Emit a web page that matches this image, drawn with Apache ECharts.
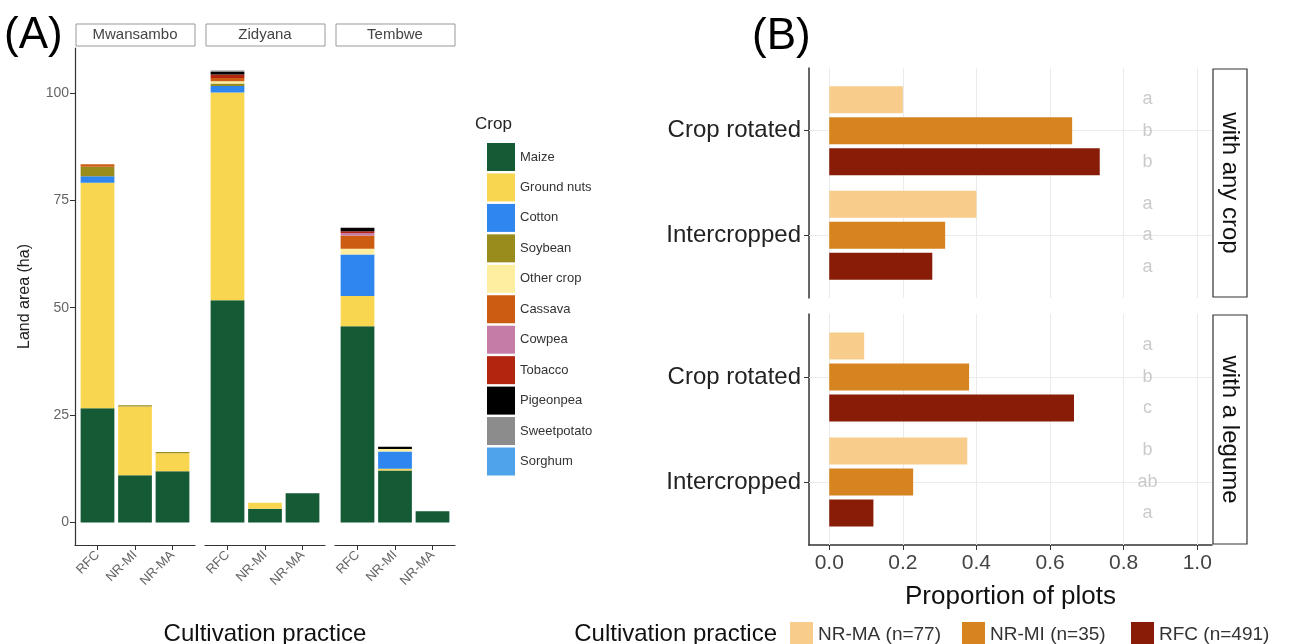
<!DOCTYPE html>
<html>
<head>
<meta charset="utf-8">
<script src="https://cdn.jsdelivr.net/npm/echarts@6/dist/echarts.min.js"></script>
<style>
  html, body { margin: 0; padding: 0; background: #fff; }
  #chart { width: 1290px; height: 644px; }
</style>
</head>
<body>
<div id="chart"></div>
<script>
// (A) land area per crop, one row per crop, columns follow `practices`
const sites = ['Mwansambo', 'Zidyana', 'Tembwe'];
const practices = ['RFC', 'NR-MI', 'NR-MA'];
const crops = ['Maize', 'Ground nuts', 'Cotton', 'Soybean', 'Other crop', 'Cassava',
  'Cowpea', 'Tobacco', 'Pigeonpea', 'Sweetpotato', 'Sorghum'];
const cropColors = ['#135a35', '#f9d64f', '#2e86ee', '#9a8c1c', '#fdeea0', '#cc5c12',
  '#c57ca6', '#b3250f', '#000000', '#8c8c8c', '#4fa3ea'];

const areaMwansambo = [
  [26.6, 11.0, 11.9],
  [52.5, 16.0, 4.2],
  [1.5, 0, 0],
  [2.2, 0.3, 0.3],
  [0, 0, 0],
  [0.6, 0, 0],
  [0, 0, 0],
  [0, 0, 0],
  [0, 0, 0],
  [0, 0, 0],
  [0, 0, 0]
];
const areaZidyana = [
  [51.7, 3.2, 6.8],
  [48.4, 1.4, 0],
  [1.5, 0, 0],
  [0.6, 0, 0],
  [0.5, 0, 0],
  [0.8, 0, 0],
  [0, 0, 0],
  [0.8, 0, 0],
  [0.6, 0, 0],
  [0.3, 0, 0],
  [0, 0, 0]
];
const areaTembwe = [
  [45.7, 12.1, 2.6],
  [7.0, 0.4, 0],
  [9.7, 4.0, 0],
  [0, 0, 0],
  [1.3, 0.6, 0],
  [3.1, 0, 0],
  [0.6, 0, 0],
  [0.4, 0, 0],
  [0.8, 0.5, 0],
  [0, 0, 0],
  [0, 0, 0]
];
const areaTicks = [0, 25, 50, 75, 100];

// (B) proportion of plots, values follow `methods`
const methods = ['Crop rotated', 'Intercropped'];
const groups = ['NR-MA (n=77)', 'NR-MI (n=35)', 'RFC (n=491)'];
const groupColors = ['#f8cd8b', '#d5841f', '#891c07'];
const anyCropNRMA = [0.20, 0.40];
const anyCropNRMI = [0.66, 0.315];
const anyCropRFC = [0.735, 0.28];
const legumeNRMA = [0.095, 0.375];
const legumeNRMI = [0.38, 0.228];
const legumeRFC = [0.665, 0.12];
const anyCropLetters = [['a', 'a'], ['b', 'a'], ['b', 'a']];
const legumeLetters = [['a', 'b'], ['b', 'ab'], ['c', 'a']];
const facetsB = ['with any crop', 'with a legume'];
const propTicks = [0, 0.2, 0.4, 0.6, 0.8, 1.0];

const FONT = 'Liberation Sans, Arial, sans-serif';
const chart = echarts.init(document.getElementById('chart'));

const grid = [], xAxis = [], yAxis = [], series = [], graphic = [];

// ---- panel A ----
const areas = [areaMwansambo, areaZidyana, areaTembwe];
const totals = areas.map(a => practices.map((p, k) => a.reduce((s, row) => s + row[k], 0)));
const maxTotal = Math.max(...totals.flat());
const yMinA = -0.05 * maxTotal, yMaxA = 1.05 * maxTotal;
const aLefts = [75, 205, 335];
const aTop = 48, aHeight = 497, aWidth = 120;
const aUnit = aWidth / 3.2; // discrete axis expanded by 0.6 each side

sites.forEach((site, g) => {
  const gf = grid.length;
  grid.push({ left: aLefts[g], top: aTop, width: aWidth, height: aHeight });
  grid.push({ left: aLefts[g] + 0.1 * aUnit, top: aTop, width: 3 * aUnit, height: aHeight });
  xAxis.push({
    type: 'value', gridIndex: gf, min: 0.4, max: 3.6,
    splitLine: { show: false },
    axisLine: { show: true, onZero: false, lineStyle: { color: '#333', width: 1.2 } },
    axisTick: { show: true, customValues: [1, 2, 3], length: 5, lineStyle: { color: '#333' } },
    axisLabel: {
      customValues: [1, 2, 3], formatter: v => practices[Math.round(v) - 1],
      rotate: 45, color: '#666', fontSize: 13, fontFamily: FONT, margin: 8
    }
  });
  xAxis.push({ type: 'category', gridIndex: gf + 1, data: practices, show: false });
  yAxis.push({
    type: 'value', gridIndex: gf, min: yMinA, max: yMaxA,
    show: g === 0,
    splitLine: { show: false },
    axisLine: { show: true, onZero: false, lineStyle: { color: '#333', width: 1.2 } },
    axisTick: { show: true, customValues: areaTicks, length: 5, lineStyle: { color: '#333' } },
    axisLabel: { customValues: areaTicks, color: '#666', fontSize: 14, fontFamily: FONT, margin: 6 },
    name: g === 0 ? 'Land area (ha)' : '', nameLocation: 'middle', nameGap: 42,
    nameTextStyle: { color: '#222', fontSize: 16, fontFamily: FONT }
  });
  yAxis.push({ type: 'value', gridIndex: gf + 1, min: yMinA, max: yMaxA, show: false, splitLine: { show: false } });
  crops.forEach((crop, c) => {
    series.push({
      type: 'bar', name: crop, stack: 'site' + g,
      xAxisIndex: gf + 1, yAxisIndex: gf + 1, barWidth: 0.9 * aUnit,
      itemStyle: { color: cropColors[c] },
      data: areas[g][c]
    });
  });
  graphic.push({
    type: 'rect', shape: { x: aLefts[g] + 1, y: 24, width: aWidth - 1, height: 22 },
    style: { fill: '#fff', stroke: '#999', lineWidth: 1 }
  });
  graphic.push({
    type: 'text', x: aLefts[g] + aWidth / 2, y: 35,
    style: { text: site, fill: '#444', fontSize: 15, fontFamily: FONT, align: 'center', verticalAlign: 'middle' }
  });
});

// ---- panel B ----
const bLeft = 809, bWidth = 403;
const bTops = [68, 314], bHeights = [230, 231];
const bValues = [[anyCropNRMA, anyCropNRMI, anyCropRFC], [legumeNRMA, legumeNRMI, legumeRFC]];
const bLetters = [anyCropLetters, legumeLetters];
const dodge = [-0.3, 0, 0.3];

facetsB.forEach((facet, f) => {
  const gv = grid.length;          // frame grid: axes, grid lines, letters
  const unit = bHeights[f] / 2.2;  // discrete axis expanded by 0.6 each side
  grid.push({ left: bLeft, top: bTops[f], width: bWidth, height: bHeights[f] });
  grid.push({ left: bLeft, top: bTops[f] + 0.1 * unit, width: bWidth, height: 2 * unit });
  const isBottom = f === facetsB.length - 1;
  xAxis.push({
    type: 'value', gridIndex: gv, min: -0.055, max: 1.04,
    splitLine: { show: false },
    axisLine: { show: isBottom, onZero: false, lineStyle: { color: '#333', width: 1.5 } },
    axisTick: { show: isBottom, customValues: propTicks, length: 5, lineStyle: { color: '#333' } },
    axisLabel: {
      show: isBottom, customValues: propTicks, formatter: v => v.toFixed(1),
      color: '#444', fontSize: 21, fontFamily: FONT, margin: 8
    },
    name: isBottom ? 'Proportion of plots' : '', nameLocation: 'middle', nameGap: 39,
    nameTextStyle: { color: '#111', fontSize: 26, fontFamily: FONT }
  });
  xAxis.push({ type: 'value', gridIndex: gv + 1, min: -0.055, max: 1.04, show: false, splitLine: { show: false } });
  yAxis.push({
    type: 'value', gridIndex: gv, min: 0.4, max: 2.6, inverse: true,
    splitLine: { show: false },
    axisLine: { show: true, onZero: false, lineStyle: { color: '#333', width: 1.5 } },
    axisTick: { show: true, customValues: [1, 2], length: 5, lineStyle: { color: '#333' } },
    axisLabel: {
      customValues: [1, 2], formatter: v => methods[Math.round(v) - 1],
      color: '#222', fontSize: 24, fontFamily: FONT, margin: 8
    }
  });
  yAxis.push({ type: 'category', gridIndex: gv + 1, data: methods, inverse: true, show: false });

  // light grid lines, kept under the bars
  series.push({
    type: 'scatter', xAxisIndex: gv, yAxisIndex: gv, data: [], z: 0, silent: true,
    markLine: {
      silent: true, symbol: 'none', z: 1, label: { show: false },
      lineStyle: { color: '#ebebeb', width: 1, type: 'solid' },
      data: propTicks.map(v => ({ xAxis: v })).concat(methods.map((m, i) => ({ yAxis: i + 1 })))
    }
  });
  groups.forEach((grp, j) => {
    series.push({
      type: 'bar', name: grp, xAxisIndex: gv + 1, yAxisIndex: gv + 1,
      barWidth: 27, barGap: '15%', z: 2,
      itemStyle: { color: groupColors[j] },
      data: bValues[f][j]
    });
  });
  series.push({
    type: 'scatter', xAxisIndex: gv, yAxisIndex: gv, z: 3, silent: true,
    symbolSize: 1, itemStyle: { color: 'rgba(0,0,0,0)' },
    label: {
      show: true, position: 'inside', formatter: p => p.data[2],
      color: '#bdbdbd', fontSize: 18, fontFamily: FONT
    },
    data: groups.flatMap((grp, j) => methods.map((m, i) => [0.865, i + 1 + dodge[j], bLetters[f][j][i]]))
  });
  graphic.push({
    type: 'rect', shape: { x: bLeft + bWidth + 1, y: bTops[f] + 1, width: 34, height: bHeights[f] - 2 },
    style: { fill: '#fff', stroke: '#333', lineWidth: 1.2 }
  });
  graphic.push({
    type: 'text', x: bLeft + bWidth + 18, y: bTops[f] + bHeights[f] / 2, rotation: -Math.PI / 2,
    style: { text: facet, fill: '#111', fontSize: 24, fontFamily: FONT, align: 'center', verticalAlign: 'middle' }
  });
});

graphic.push(
  { type: 'text', x: 4, y: 14, style: { text: '(A)', fill: '#000', fontSize: 44, fontFamily: FONT } },
  { type: 'text', x: 752, y: 15, style: { text: '(B)', fill: '#000', fontSize: 44, fontFamily: FONT } },
  { type: 'text', x: 475, y: 116, style: { text: 'Crop', fill: '#222', fontSize: 17, fontFamily: FONT } },
  { type: 'text', x: 265, y: 634, style: { text: 'Cultivation practice', fill: '#111', fontSize: 24, fontFamily: FONT, align: 'center', verticalAlign: 'middle' } },
  { type: 'text', x: 777, y: 634, style: { text: 'Cultivation practice', fill: '#111', fontSize: 24, fontFamily: FONT, align: 'right', verticalAlign: 'middle' } }
);

const legendB = groups.map((grp, j) => ({
  data: [grp], orient: 'horizontal', left: [785, 957, 1126][j], top: 617, icon: 'rect',
  itemWidth: 23, itemHeight: 25, selectedMode: false,
  textStyle: { color: '#333', fontSize: 19, fontFamily: FONT }
}));

chart.setOption({
  animation: false,
  backgroundColor: '#fff',
  grid, xAxis, yAxis, series, graphic,
  legend: [
    {
      data: crops, orient: 'vertical', left: 482, top: 138, icon: 'rect',
      itemWidth: 28, itemHeight: 28, itemGap: 2.45, selectedMode: false,
      textStyle: { color: '#333', fontSize: 13, fontFamily: FONT }
    }
  ].concat(legendB)
});
</script>
</body>
</html>
